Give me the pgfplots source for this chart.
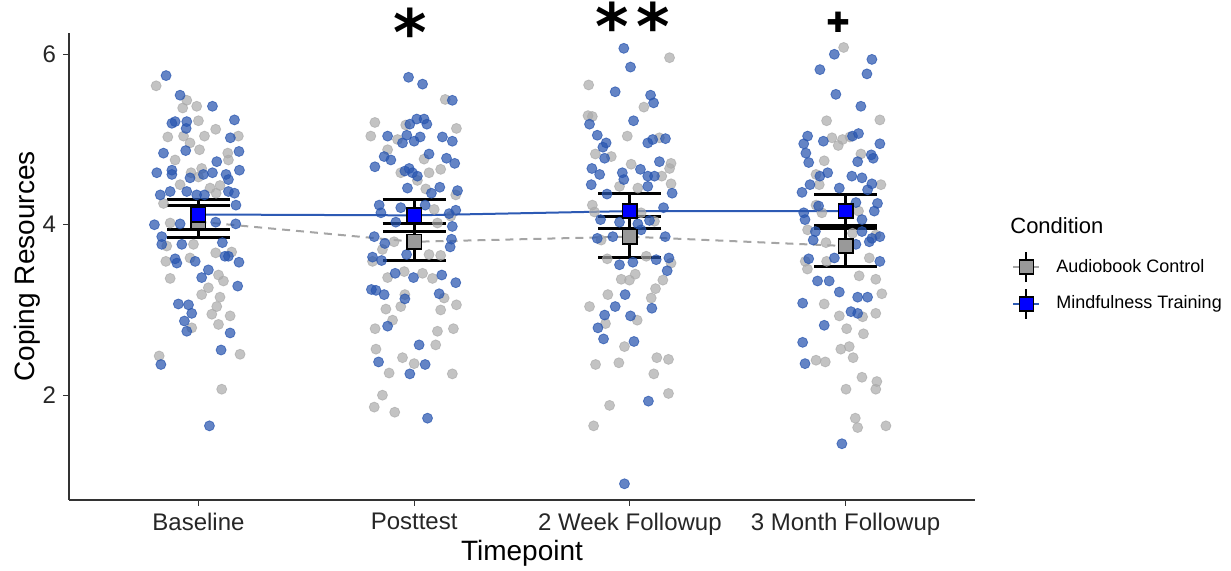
\documentclass[border=0pt]{standalone}
\usepackage{pgfplots}
\pgfplotsset{compat=1.18}
\usepackage{pgfplotstable}
\usepackage{fontspec}
\setmainfont{Liberation Sans}
\newfontfamily\dejavu{DejaVu Sans}
\definecolor{ptblue}{RGB}{40,85,175}
\definecolor{ptgray}{RGB}{170,170,170}
\definecolor{lineblue}{RGB}{45,90,180}
\definecolor{linegray}{RGB}{165,165,165}
\definecolor{sqgray}{RGB}{153,153,153}
\definecolor{sqblue}{RGB}{0,0,255}

% individual observations, audiobook control (gray)
\pgfplotstableread{
x y
-0.196 5.63
-0.054 5.46
-0.073 5.37
-0.008 5.39
0.000 5.22
0.080 5.12
-0.142 5.03
-0.069 5.04
0.028 5.04
0.185 5.04
-0.039 4.96
0.005 4.88
0.136 4.84
-0.108 4.76
0.139 4.76
0.015 4.66
-0.034 4.61
0.000 4.56
-0.085 4.47
0.100 4.46
0.054 4.43
0.082 4.37
-0.162 4.25
-0.131 4.02
-0.147 3.75
-0.023 3.77
-0.151 3.57
-0.039 3.61
0.080 3.67
0.154 3.68
-0.131 3.37
0.093 3.41
0.116 3.34
0.046 3.26
0.015 3.18
0.100 3.15
0.085 3.04
0.062 2.95
0.147 2.93
0.093 2.83
-0.031 2.79
0.193 2.48
-0.182 2.46
0.108 2.07
1.144 5.47
0.818 5.20
0.961 5.17
1.196 5.13
0.799 5.04
0.923 5.00
0.877 4.88
1.046 4.77
1.123 4.65
0.938 4.61
1.069 4.61
1.015 4.52
1.054 4.42
1.193 4.35
1.093 4.18
1.170 4.10
1.108 4.02
0.907 3.80
0.853 3.71
1.069 3.65
1.123 3.64
0.807 3.57
0.877 3.38
0.954 3.45
1.039 3.43
1.085 3.37
0.957 3.18
1.139 3.14
0.938 3.04
1.196 3.06
0.869 3.01
1.123 3.00
0.900 2.88
0.819 2.78
1.182 2.78
1.108 2.75
1.100 2.59
0.823 2.54
0.946 2.44
1.000 2.37
0.884 2.26
1.177 2.25
0.853 2.00
0.815 1.86
0.910 1.80
2.184 5.96
1.809 5.64
2.065 5.38
1.806 5.28
1.826 5.27
1.988 5.04
2.137 5.02
1.840 4.83
1.914 4.80
2.006 4.71
2.191 4.72
2.184 4.66
2.148 4.57
2.191 4.48
1.952 4.45
2.037 4.43
1.826 4.23
1.836 4.15
2.052 4.14
2.114 4.04
1.867 3.82
1.895 3.60
2.076 3.63
2.191 3.55
2.025 3.42
1.960 3.36
1.998 3.35
2.153 3.35
2.119 3.25
1.898 3.18
2.099 3.14
1.813 3.04
2.034 2.88
1.887 2.84
1.975 2.57
1.841 2.36
1.949 2.38
2.125 2.44
2.179 2.42
2.111 2.25
2.179 2.02
1.906 1.88
1.832 1.64
2.991 6.08
2.912 5.22
3.159 5.23
2.937 5.02
2.986 5.00
3.020 5.03
2.966 4.93
3.071 4.83
2.901 4.75
2.863 4.59
2.878 4.47
3.164 4.47
2.863 4.23
2.890 4.14
3.060 4.16
2.824 3.94
3.032 3.90
2.909 3.79
3.140 3.88
2.813 3.57
2.912 3.57
3.110 3.61
2.823 3.48
3.063 3.40
3.140 3.36
3.168 3.19
2.901 3.07
2.971 2.93
3.079 2.92
3.140 2.96
3.005 2.78
3.083 2.72
2.978 2.54
3.017 2.57
3.035 2.44
2.863 2.41
2.906 2.39
3.076 2.21
3.145 2.16
3.002 2.07
3.140 2.07
3.045 1.73
3.056 1.62
3.187 1.64
}\graypts

% individual observations, mindfulness training (blue)
\pgfplotstableread{
x y
-0.150 5.75
-0.085 5.52
0.065 5.39
-0.123 5.19
-0.108 5.21
-0.054 5.21
0.167 5.23
-0.057 5.13
0.148 5.02
-0.162 4.84
-0.059 4.87
0.188 4.86
0.085 4.74
-0.193 4.61
-0.123 4.64
-0.123 4.59
-0.039 4.55
0.023 4.59
0.065 4.61
0.128 4.59
0.190 4.64
0.139 4.53
-0.131 4.39
-0.177 4.35
-0.054 4.39
-0.008 4.35
0.028 4.35
0.139 4.39
0.167 4.37
0.174 4.23
-0.204 4.00
-0.085 4.01
0.080 4.03
0.173 4.01
-0.170 3.86
-0.170 3.77
-0.077 3.77
0.111 3.79
-0.108 3.60
-0.100 3.55
-0.015 3.57
0.123 3.63
0.139 3.63
0.188 3.56
0.046 3.47
0.015 3.38
0.182 3.28
-0.093 3.07
-0.046 3.06
-0.031 2.96
-0.065 2.87
-0.054 2.75
0.147 2.73
0.105 2.53
-0.174 2.36
0.051 1.64
0.974 5.73
1.039 5.65
1.177 5.46
1.012 5.24
1.046 5.24
0.980 5.18
1.059 5.18
0.877 5.04
0.966 5.05
1.028 5.03
1.131 5.03
0.946 4.96
1.000 4.98
1.177 4.98
1.069 4.83
0.861 4.80
0.892 4.76
0.818 4.68
1.150 4.78
1.188 4.72
0.977 4.66
0.992 4.61
0.957 4.63
1.015 4.57
0.969 4.43
1.119 4.44
1.080 4.37
1.201 4.40
0.838 4.23
0.938 4.20
1.051 4.23
0.846 4.14
1.162 4.13
1.193 4.17
0.915 4.03
1.177 3.98
0.815 3.86
0.864 3.78
1.173 3.83
1.167 3.74
0.965 3.65
0.807 3.62
0.849 3.58
0.912 3.43
0.997 3.38
1.128 3.41
1.193 3.32
0.802 3.24
0.823 3.23
0.861 3.18
1.116 3.19
0.957 3.13
0.877 2.81
1.023 2.59
0.835 2.39
1.051 2.36
0.980 2.25
1.062 1.73
1.972 6.07
2.003 5.85
1.932 5.56
2.096 5.52
2.110 5.43
1.813 5.18
2.017 5.22
1.849 5.05
1.890 4.96
2.083 4.96
2.106 5.00
2.165 5.01
1.875 4.91
1.883 4.78
2.137 4.74
1.824 4.66
2.049 4.65
1.860 4.59
1.965 4.61
2.083 4.57
2.114 4.57
1.972 4.53
1.821 4.47
2.083 4.45
1.894 4.36
2.196 4.37
2.156 4.20
1.864 4.06
2.091 4.05
1.952 4.03
2.037 4.01
1.849 3.84
1.921 3.86
2.052 3.94
2.164 3.86
1.952 3.53
2.014 3.56
2.122 3.59
2.181 3.61
2.173 3.46
1.978 3.18
1.932 3.04
2.102 3.02
1.883 2.94
2.003 2.93
1.852 2.79
1.878 2.66
2.019 2.63
2.086 1.93
1.975 0.96
2.948 6.00
3.122 5.94
2.881 5.82
3.099 5.77
2.955 5.53
3.071 5.39
2.824 5.04
2.897 4.98
3.032 5.04
3.060 5.07
2.806 4.95
3.159 4.95
2.816 4.84
3.119 4.82
3.128 4.78
2.829 4.73
3.056 4.74
2.917 4.61
2.881 4.57
3.029 4.57
3.076 4.55
2.835 4.47
3.122 4.48
2.798 4.38
2.971 4.43
3.102 4.41
3.148 4.25
3.048 4.26
2.875 4.22
3.133 4.16
2.806 4.14
2.812 4.06
3.076 4.06
2.860 3.92
3.076 3.92
3.122 3.84
3.159 3.86
3.110 3.80
2.850 3.82
3.048 3.77
2.829 3.60
2.948 3.61
3.159 3.57
2.870 3.34
2.924 3.34
2.971 3.21
2.801 3.08
3.056 3.15
3.102 3.15
3.025 2.98
3.056 2.96
2.901 2.82
2.801 2.62
2.812 2.37
2.983 1.43
}\bluepts

% group means with error half-widths
\pgfplotstableread{
x y e
0 4.035 0.185
1 3.80 0.215
2 3.86 0.24
3 3.75 0.24
}\graymeans
\pgfplotstableread{
x y e
0 4.12 0.18
1 4.11 0.19
2 4.16 0.21
3 4.16 0.20
}\bluemeans

\begin{document}
\begin{tikzpicture}
\useasboundingbox (0,0) rectangle (615.5pt,285.5pt);
\begin{axis}[
  at={(34.5pt,35.5pt)}, anchor=south west,
  scale only axis, width=453pt, height=233.5pt,
  xmin=-0.6, xmax=3.6, ymin=0.77, ymax=6.25,
  axis lines*=left,
  axis line style={black!80, line width=0.6pt},
  xtick={0,1,2,3},
  xticklabels={Baseline,Posttest,2 Week Followup,3 Month Followup},
  ytick={2,4,6},
  tick align=outside, major tick length=3pt,
  tick style={black!80, line width=0.6pt},
  ticklabel style={font=\fontsize{12}{14}\selectfont, text=black!85},
  /pgf/number format/assume math mode=true,
  xlabel={Timepoint}, ylabel={Coping Resources},
  label style={font=\fontsize{14}{16}\selectfont},
  xlabel style={at={(axis description cs:0.5,-0.113)}, anchor=center},
  ylabel style={at={(axis description cs:-0.0464,0.5)}, anchor=center},
  clip=false,
  legend style={at={(axis description cs:1.0408,0.615)}, anchor=north west,
    draw=none, fill=none, inner sep=0pt,
    font=\fontsize{9}{11}\selectfont, row sep=2.5pt, column sep=6pt},
  legend cell align=left,
]
% jittered raw observations
\addplot[only marks, mark=*, mark size=2.5pt, forget plot, color=ptgray,
  mark options={draw=ptgray, fill=ptgray, opacity=0.7}] table[x=x,y=y] {\graypts};
\addplot[only marks, mark=*, mark size=2.5pt, forget plot, color=ptblue,
  mark options={draw=ptblue, fill=ptblue, opacity=0.72}] table[x=x,y=y] {\bluepts};
% mean trajectories
\addplot[linegray, line width=1pt, dash pattern=on 4pt off 3pt, forget plot] table[x=x,y=y] {\graymeans};
\addplot[lineblue, line width=1pt, forget plot] table[x=x,y=y] {\bluemeans};
% error bars
\addplot[draw=none, mark=none, forget plot,
  error bars/.cd, y dir=both, y explicit,
  error bar style={draw=black, solid, line width=1.5pt},
  error mark options={draw=black, solid, rotate=90, mark size=15.75pt, line width=1.5pt}]
  table[x=x, y=y, y error=e] {\graymeans};
\addplot[draw=none, mark=none, forget plot,
  error bars/.cd, y dir=both, y explicit,
  error bar style={draw=black, solid, line width=1.5pt},
  error mark options={draw=black, solid, rotate=90, mark size=15.75pt, line width=1.5pt}]
  table[x=x, y=y, y error=e] {\bluemeans};
% mean markers
\addplot[only marks, mark=square*, mark size=3.6pt, forget plot,
  mark options={fill=sqgray, draw=black, line width=0.8pt}] table[x=x,y=y] {\graymeans};
\addplot[only marks, mark=square*, mark size=3.6pt, forget plot,
  mark options={fill=sqblue, draw=black, line width=0.8pt}] table[x=x,y=y] {\bluemeans};

% legend
\addlegendimage{empty legend}
\addlegendentry[font=\fontsize{11}{13}\selectfont]{\hspace*{-23pt}\raisebox{3pt}{Condition}}
\addlegendimage{legend image code/.code={
  \draw[linegray, line width=1pt] (0pt,0pt) -- (13pt,0pt);
  \draw[black, line width=0.9pt] (6.5pt,-7.5pt) -- (6.5pt,7.5pt);
  \draw[black, fill=sqgray, line width=0.7pt] (3pt,-3.5pt) rectangle (10pt,3.5pt);
}}
\addlegendentry{Audiobook Control}
\addlegendimage{legend image code/.code={
  \draw[lineblue, line width=1pt] (0pt,0pt) -- (13pt,0pt);
  \draw[black, line width=0.9pt] (6.5pt,-7.5pt) -- (6.5pt,7.5pt);
  \draw[black, fill=sqblue, line width=0.7pt] (3pt,-3.5pt) rectangle (10pt,3.5pt);
}}
\addlegendentry{Mindfulness Training}

% significance marks
\node[font=\dejavu\bfseries\fontsize{32}{32}\selectfont, anchor=center] at (axis cs:0.983,6.27) {*};
\node[font=\dejavu\bfseries\fontsize{32}{32}\selectfont, anchor=center] at (axis cs:1.919,6.33) {*};
\node[font=\dejavu\bfseries\fontsize{32}{32}\selectfont, anchor=center] at (axis cs:2.108,6.33) {*};
\node[font=\dejavu\fontsize{14}{14}\selectfont, anchor=center] at (axis cs:2.965,6.38) {✚};
\end{axis}
\end{tikzpicture}
\end{document}
